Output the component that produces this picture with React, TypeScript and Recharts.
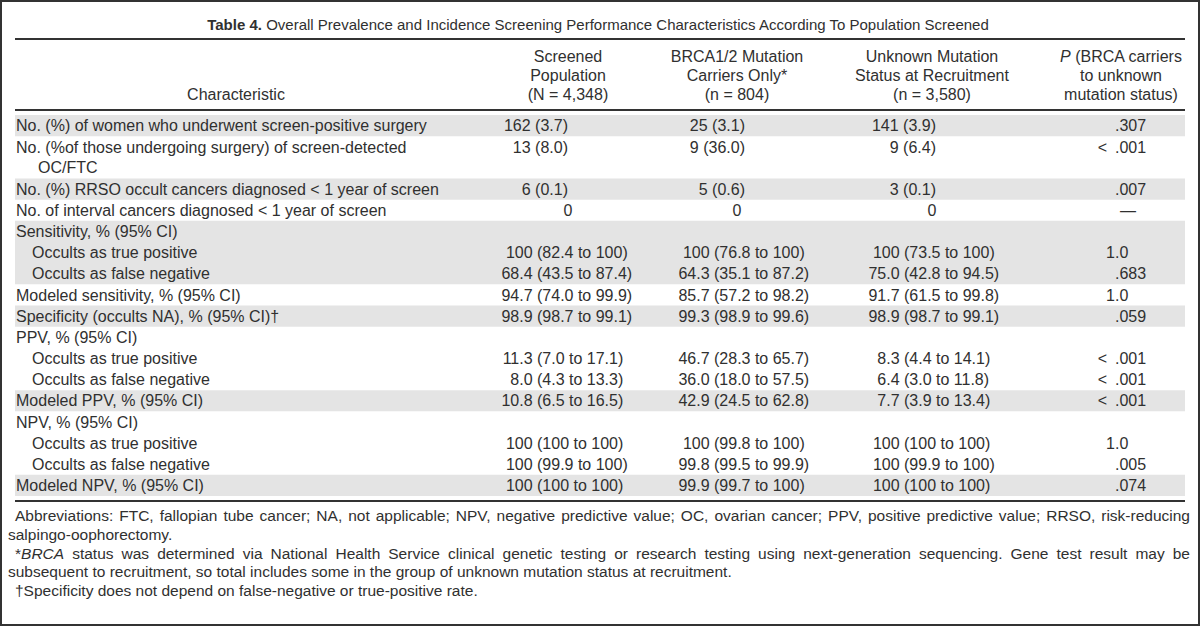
import React from 'react';
import { ComposedChart, XAxis, YAxis, Scatter, ReferenceArea } from 'recharts';

// ---------- data ----------
const titleBold = 'Table 4.';
const titleText = 'Overall Prevalence and Incidence Screening Performance Characteristics According To Population Screened';

const stubHeader = 'Characteristic';
const screenedHeader = ['Screened', 'Population', '(N = 4,348)'];
const brcaHeader = ['BRCA1/2 Mutation', 'Carriers Only*', '(n = 804)'];
const unknownHeader = ['Unknown Mutation', 'Status at Recruitment', '(n = 3,580)'];
const pHeader = ['P| (BRCA carriers', 'to unknown', 'mutation status)'];

const characteristics = [
  'No. (%) of women who underwent screen-positive surgery',
  'No. (%of those undergoing surgery) of screen-detected\nOC/FTC',
  'No. (%) RRSO occult cancers diagnosed < 1 year of screen',
  'No. of interval cancers diagnosed < 1 year of screen',
  'Sensitivity, % (95% CI)',
  'Occults as true positive',
  'Occults as false negative',
  'Modeled sensitivity, % (95% CI)',
  'Specificity (occults NA), % (95% CI)†',
  'PPV, % (95% CI)',
  'Occults as true positive',
  'Occults as false negative',
  'Modeled PPV, % (95% CI)',
  'NPV, % (95% CI)',
  'Occults as true positive',
  'Occults as false negative',
  'Modeled NPV, % (95% CI)',
];
const indentLevels = [0, 0, 0, 0, 0, 1, 1, 0, 0, 0, 1, 1, 0, 0, 1, 1, 0];
const screenedValues = ['162 (3.7)', '13 (8.0)', '6 (0.1)', '0', '', '100 (82.4 to 100)', '68.4 (43.5 to 87.4)', '94.7 (74.0 to 99.9)', '98.9 (98.7 to 99.1)', '', '11.3 (7.0 to 17.1)', '8.0 (4.3 to 13.3)', '10.8 (6.5 to 16.5)', '', '100 (100 to 100)', '100 (99.9 to 100)', '100 (100 to 100)'];
const brcaValues = ['25 (3.1)', '9 (36.0)', '5 (0.6)', '0', '', '100 (76.8 to 100)', '64.3 (35.1 to 87.2)', '85.7 (57.2 to 98.2)', '99.3 (98.9 to 99.6)', '', '46.7 (28.3 to 65.7)', '36.0 (18.0 to 57.5)', '42.9 (24.5 to 62.8)', '', '100 (99.8 to 100)', '99.8 (99.5 to 99.9)', '99.9 (99.7 to 100)'];
const unknownValues = ['141 (3.9)', '9 (6.4)', '3 (0.1)', '0', '', '100 (73.5 to 100)', '75.0 (42.8 to 94.5)', '91.7 (61.5 to 99.8)', '98.9 (98.7 to 99.1)', '', '8.3 (4.4 to 14.1)', '6.4 (3.0 to 11.8)', '7.7 (3.9 to 13.4)', '', '100 (100 to 100)', '100 (99.9 to 100)', '100 (100 to 100)'];
const pValues = ['.307', '< .001', '.007', '—', '', '1.0', '.683', '1.0', '.059', '', '< .001', '< .001', '< .001', '', '1.0', '.005', '.074'];
const shadedRows = [true, false, true, false, true, true, true, false, true, false, false, false, true, false, false, false, true];

const footnotes = [
  { text: 'Abbreviations: FTC, fallopian tube cancer; NA, not applicable; NPV, negative predictive value; OC, ovarian cancer; PPV, positive predictive value; RRSO, risk-reducing', indent: true, justify: true },
  { text: 'salpingo-oophorectomy.', indent: false, justify: false },
  { text: '*|BRCA| status was determined via National Health Service clinical genetic testing or research testing using next-generation sequencing. Gene test result may be', indent: true, justify: true },
  { text: 'subsequent to recruitment, so total includes some in the group of unknown mutation status at recruitment.', indent: false, justify: false },
  { text: '†Specificity does not depend on false-negative or true-positive rate.', indent: true, justify: false },
];

// ---------- layout / style ----------
const W = 1200;
const H = 626;
const FONT = '"Liberation Sans", Arial, Helvetica, sans-serif';
const INK = '#303030';
const SHADE = '#e4e4e4';
const FS = 16;
const LEFT = 15;
const RIGHT = 1185;
const cols = [
  { head: 568, paren: 537, end: 568 },
  { head: 737, paren: 714, end: 745 },
  { head: 932, paren: 904, end: 936 },
];
const P_DOT = 1115;
const P_DASH = 1128;
const P_HEAD = 1121;

// build rows from data
let acc = 0;
const rows = characteristics.map((label, i) => {
  const n = label.split('\n').length;
  const start = acc;
  acc += n;
  return {
    x: 0,
    center: start + n / 2,
    start,
    end: start + n,
    label,
    indent: indentLevels[i],
    values: [screenedValues[i], brcaValues[i], unknownValues[i]],
    p: pValues[i],
  };
});
const totalUnits = acc;

const bands: { start: number; end: number }[] = [];
rows.forEach((r, i) => {
  if (!shadedRows[i]) return;
  const last = bands[bands.length - 1];
  if (last && i > 0 && shadedRows[i - 1]) last.end = r.end;
  else bands.push({ start: r.start, end: r.end });
});

const txt = { fontFamily: FONT, fontSize: FS, fill: INK } as const;

function ValueCell({ v, c, y }: { v: string; c: typeof cols[number]; y: number }) {
  if (!v) return null;
  if (v.includes(' to ')) {
    const k = v.indexOf(' (');
    return (
      <g>
        <text {...txt} x={c.paren - 4.4} y={y} textAnchor="end">{v.slice(0, k)}</text>
        <text {...txt} x={c.paren} y={y} textAnchor="start">{v.slice(k + 1)}</text>
      </g>
    );
  }
  if (!v.includes('(')) return <text {...txt} x={c.head} y={y} textAnchor="middle">{v}</text>;
  return <text {...txt} x={c.end} y={y} textAnchor="end">{v}</text>;
}

function PCell({ v, y }: { v: string; y: number }) {
  if (!v) return null;
  if (v === '—') return <text {...txt} x={P_DASH} y={y} textAnchor="middle">{v}</text>;
  const k = v.indexOf('.');
  const left = v.slice(0, k).trim();
  const hasLt = left === '<';
  return (
    <g>
      {left && (
        <text {...txt} x={hasLt ? P_DOT - 8 : P_DOT} y={y} textAnchor="end">{left}</text>
      )}
      <text {...txt} x={P_DOT} y={y} textAnchor="start">{v.slice(k)}</text>
    </g>
  );
}

function RowShape(props: any) {
  const { cy, payload } = props;
  if (cy == null || !payload) return null;
  const lines: string[] = payload.label.split('\n');
  const lh = 19.5;
  const top = cy - ((lines.length - 1) * lh) / 2 + 5.6;
  const lx = payload.indent ? 32 : 16;
  return (
    <g>
      {lines.map((ln, i) => (
        <text key={i} {...txt} x={i === 0 ? lx : 38} y={top + i * lh}>{ln}</text>
      ))}
      {payload.values.map((v: string, ci: number) => (
        <ValueCell key={ci} v={v} c={cols[ci]} y={top} />
      ))}
      <PCell v={payload.p} y={top} />
    </g>
  );
}

function HeaderCol({ lines, x }: { lines: string[]; x: number }) {
  return (
    <g>
      {lines.map((ln, i) => {
        const parts = ln.split('|');
        return (
          <text key={i} {...txt} x={x} y={62 + i * 19} textAnchor="middle">
            {parts.length > 1 ? (
              <>
                <tspan fontStyle="italic">{parts[0]}</tspan>
                {parts[1]}
              </>
            ) : ln}
          </text>
        );
      })}
    </g>
  );
}

function Overlay() {
  return (
    <svg width={W} height={H} style={{ position: 'absolute', left: 0, top: 0, pointerEvents: 'none' }}>
      <rect x={1} y={1} width={W - 2} height={H - 2} fill="none" stroke="#333" strokeWidth={2} />
      <text x={598} y={30} textAnchor="middle" fontFamily={FONT} fontSize={15} fill={INK}>
        <tspan fontWeight="bold">{titleBold}</tspan>
        <tspan>{'  ' + titleText}</tspan>
      </text>
      <line x1={LEFT} x2={RIGHT} y1={39} y2={39} stroke="#333" strokeWidth={2} />
      <text {...txt} x={236} y={100} textAnchor="middle">{stubHeader}</text>
      <HeaderCol lines={screenedHeader} x={cols[0].head} />
      <HeaderCol lines={brcaHeader} x={cols[1].head} />
      <HeaderCol lines={unknownHeader} x={cols[2].head} />
      <HeaderCol lines={pHeader} x={P_HEAD} />
      <line x1={LEFT} x2={RIGHT} y1={110} y2={110} stroke="#333" strokeWidth={2} />
      <line x1={LEFT} x2={RIGHT} y1={501} y2={501} stroke="#333" strokeWidth={2} />
    </svg>
  );
}

function Footnotes() {
  return (
    <div style={{ position: 'absolute', left: 8, top: 507, width: 1182, fontFamily: FONT, fontSize: 15.5, lineHeight: '18.8px', color: INK }}>
      {footnotes.map((f, i) => {
        const parts = f.text.split('|');
        return (
          <div
            key={i}
            style={{
              whiteSpace: 'nowrap',
              paddingLeft: f.indent ? 7 : 0,
              textAlign: f.justify ? 'justify' : 'left',
              textAlignLast: f.justify ? 'justify' : 'left',
            }}
          >
            {parts.map((p, k) => (k % 2 === 1 ? <i key={k}>{p}</i> : <span key={k}>{p}</span>))}
          </div>
        );
      })}
    </div>
  );
}

export default function App() {
  return (
    <div style={{ position: 'absolute', left: 0, top: 0, width: W, height: H, background: '#fff', overflow: 'hidden' }}>
      <ComposedChart
        width={W}
        height={H}
        data={rows}
        margin={{ top: 115, right: W - RIGHT, bottom: H - 496, left: LEFT }}
      >
        <XAxis type="number" dataKey="x" domain={[0, 1]} hide />
        <YAxis type="number" dataKey="center" domain={[0, totalUnits]} reversed hide />
        {bands.map((b, i) => (
          <ReferenceArea key={i} x1={0} x2={1} y1={b.start} y2={b.end} fill={SHADE} fillOpacity={1} stroke="none" ifOverflow="visible" />
        ))}
        <Scatter data={rows} dataKey="center" shape={RowShape} isAnimationActive={false} />
      </ComposedChart>
      <Overlay />
      <Footnotes />
    </div>
  );
}
